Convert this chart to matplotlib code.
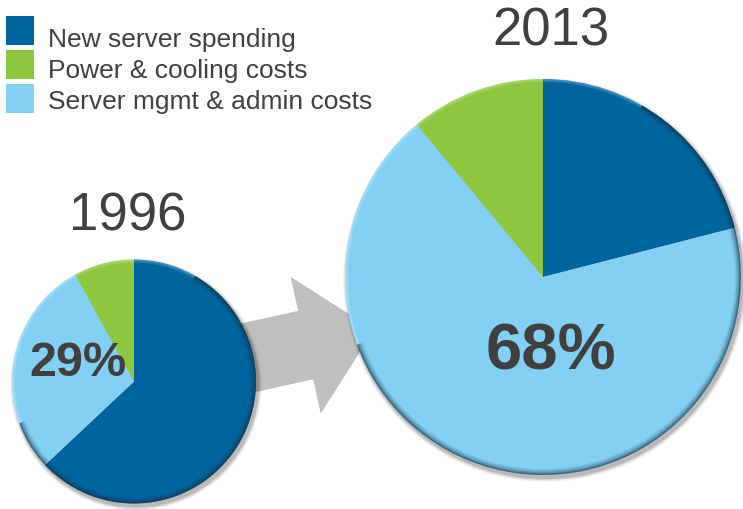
import matplotlib.pyplot as plt
from matplotlib.patches import Circle, Wedge, FancyArrow, Rectangle

plt.rcParams['font.family'] = ['Liberation Sans', 'DejaVu Sans']

categories = ["New server spending", "Power & cooling costs", "Server mgmt & admin costs"]
colors = ["#00649e", "#8dc63f", "#83d0f4"]
years = ["1996", "2013"]
# shares in pie order (clockwise from 12 o'clock): new server, mgmt/admin, power/cooling
share_1996 = [63, 29, 8]
share_2013 = [21, 68, 11]
labels = ["29%", "68%"]
text_col = "#404040"

W, H = 743, 509
fig = plt.figure(figsize=(W / 100, H / 100), dpi=100)
ax = fig.add_axes([0, 0, 1, 1])

# grey arrow between the pies (behind them)
ax.add_patch(FancyArrow(202, 141, 172, 38, width=70, head_width=140, head_length=70,
                        length_includes_head=True, color="#bfbfbf", lw=0, zorder=1))

pie_colors = [colors[0], colors[2], colors[1]]
pies = [((134, 127.5), 122, share_1996), ((543, 232), 198, share_2013)]

for (cx, cy), r, vals in pies:
    # soft drop shadow
    for k, a in enumerate([0.04, 0.06, 0.08, 0.12]):
        ax.add_patch(Circle((cx + 2, cy - 3), r + 4 - k, color="#000000", alpha=a, lw=0, zorder=2))
    ax.pie(vals, colors=pie_colors, startangle=90, counterclock=False,
           center=(cx, cy), radius=r, frame=True,
           wedgeprops=dict(linewidth=0, zorder=3))
    # dark rim on lower right, light rim on upper left
    for k, a in enumerate([0.65, 0.4, 0.22, 0.1]):
        ax.add_patch(Wedge((cx, cy), r - k * 1.5, 200, 60, width=1.6,
                           color="#1a3040", alpha=a, lw=0, zorder=4))
    for k, a in enumerate([0.25, 0.12]):
        ax.add_patch(Wedge((cx, cy), r - k * 1.5, 60, 200, width=1.6,
                           color="#ffffff", alpha=a, lw=0, zorder=4))

ax.set_xlim(0, W)
ax.set_ylim(0, H)
ax.set_aspect('equal')
ax.axis('off')

# year titles
ax.text(127.5, H - 216, years[0], fontsize=38, color=text_col, ha='center', va='center')
ax.text(551, H - 31, years[1], fontsize=38, color=text_col, ha='center', va='center')

# percentage labels
ax.text(78, H - 364, labels[0], fontsize=35, fontweight='bold', color=text_col,
        ha='center', va='center', zorder=6)
ax.text(551, H - 353, labels[1], fontsize=47, fontweight='bold', color=text_col,
        ha='center', va='center', zorder=6)

# legend
for i, (lab, col) in enumerate(zip(categories, colors)):
    ys = H - (30 + i * 34)
    ax.add_patch(Rectangle((6, ys - 14.5), 28, 29, color=col, lw=0, zorder=5))
    ax.text(48, H - (37 + i * 31), lab, fontsize=19, color=text_col,
            ha='left', va='center_baseline')

fig.savefig("out.png", dpi=100)
